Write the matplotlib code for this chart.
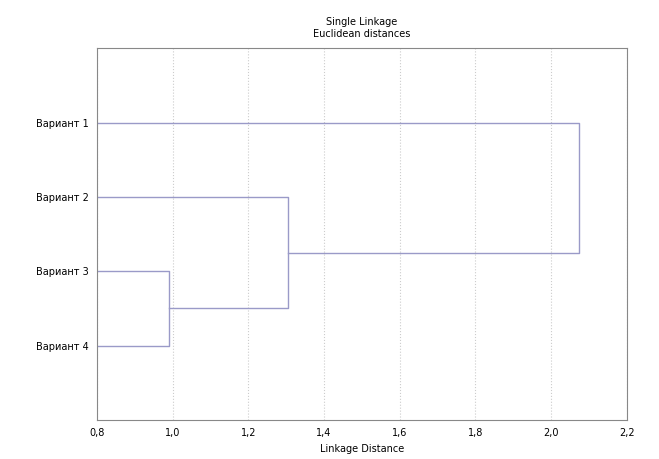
import matplotlib
matplotlib.use("Agg")
import matplotlib.pyplot as plt

# leaves (top to bottom) and the merges: (left node, right node, distance)
labels = ["Вариант 1", "Вариант 2", "Вариант 3", "Вариант 4"]
merges = [(2, 3, 0.99), (1, 4, 1.305), (0, 5, 2.075)]
xticks = [0.8, 1.0, 1.2, 1.4, 1.6, 1.8, 2.0, 2.2]
xticklabels = ["0,8", "1,0", "1,2", "1,4", "1,6", "1,8", "2,0", "2,2"]

plt.rcParams['font.family'] = ['DejaVu Sans']
fig = plt.figure(figsize=(6.59, 4.59), dpi=100)
ax = fig.add_axes([0.147, 0.085, 0.804, 0.81])

xmin = xticks[0]
pos = {i: i + 1 for i in range(len(labels))}
height = {i: xmin for i in range(len(labels))}
col = "#9a9ac8"
for k, (a, b, d) in enumerate(merges):
    node = len(labels) + k
    ax.plot([height[a], d, d, height[b]], [pos[a], pos[a], pos[b], pos[b]],
            color=col, lw=1.0)
    pos[node] = (pos[a] + pos[b]) / 2
    height[node] = d

ax.set_xlim(xticks[0], xticks[-1])
ax.set_ylim(5, 0)
ax.set_xticks(xticks)
ax.set_xticklabels(xticklabels, fontsize=7)
ax.set_yticks(range(1, len(labels) + 1))
ax.set_yticklabels(labels, fontsize=7)
ax.tick_params(length=0, pad=6)
ax.grid(axis='x', color='#cccccc', ls=':', lw=0.8)
for s in ax.spines.values():
    s.set_color('#888888')
ax.set_xlabel("Linkage Distance", fontsize=7, labelpad=4)
ax.set_title("Single Linkage\nEuclidean distances", fontsize=7, pad=8, linespacing=1.2)

fig.savefig("out.png", dpi=100)
